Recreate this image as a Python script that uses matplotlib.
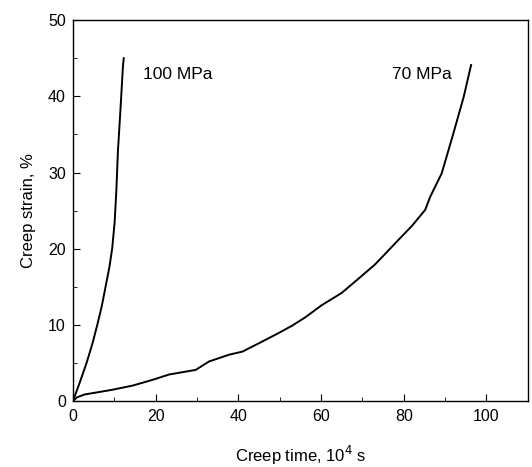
import matplotlib
matplotlib.use("Agg")
import matplotlib.pyplot as plt
from matplotlib.ticker import MultipleLocator

plt.rcParams['font.family'] = ['Liberation Sans', 'DejaVu Sans']

t100 = [0, 1.7, 3.3, 4.7, 5.9, 7.0, 7.9, 8.8, 9.5, 10.1, 10.5, 10.9, 11.5, 12.1, 12.3]
s100 = [0, 2.5, 5.0, 7.5, 10.0, 12.5, 15.0, 17.5, 20.0, 23.5, 27.5, 32.9, 38.2, 43.9, 45.0]

t70 = [0, 1.0, 2.8, 9.6, 14.5, 19.3, 23.3, 29.7, 32.9, 37.8, 41.0, 45.0, 49.8, 53.0, 56.2, 60.2,
       65.0, 68.7, 73.0, 76.0, 78.8, 82.0, 85.2, 86.4, 89.2, 92.0, 94.5, 96.3]
s70 = [0, 0.5, 0.87, 1.5, 2.05, 2.8, 3.5, 4.1, 5.2, 6.1, 6.5, 7.6, 8.95, 9.9, 11.0, 12.6,
       14.2, 15.9, 17.9, 19.6, 21.2, 23.0, 25.1, 26.8, 29.9, 35.1, 39.9, 44.1]

labels = ["100 MPa", "70 MPa"]
label_pos = [(16.9, 42.8), (77.1, 42.8)]

fig = plt.figure(figsize=(5.32, 4.67), dpi=100)
ax = fig.add_axes([0.137, 0.141, 0.855, 0.816])

ax.plot(t100, s100, color='black', lw=1.4)
ax.plot(t70, s70, color='black', lw=1.4)
for lab, (x, y) in zip(labels, label_pos):
    ax.text(x, y, lab, fontsize=12.5, ha='left', va='center')

ax.set_xlim(0, 110)
ax.set_ylim(0, 50)
ax.xaxis.set_major_locator(MultipleLocator(20))
ax.xaxis.set_minor_locator(MultipleLocator(10))
ax.yaxis.set_major_locator(MultipleLocator(10))
ax.yaxis.set_minor_locator(MultipleLocator(5))
ax.tick_params(which='both', direction='in', top=False, right=False, labelsize=11.5)
ax.tick_params(axis='x', which='major', length=5, pad=6)
ax.tick_params(axis='y', which='major', length=5, pad=5)
ax.tick_params(which='minor', length=3)
for sp in ax.spines.values():
    sp.set_linewidth(1.0)

ax.set_xlabel("Creep time, 10$^4$ s", fontsize=12, labelpad=14)
ax.set_ylabel("Creep strain, %", fontsize=12, labelpad=9)

fig.savefig("out.png", dpi=100)
